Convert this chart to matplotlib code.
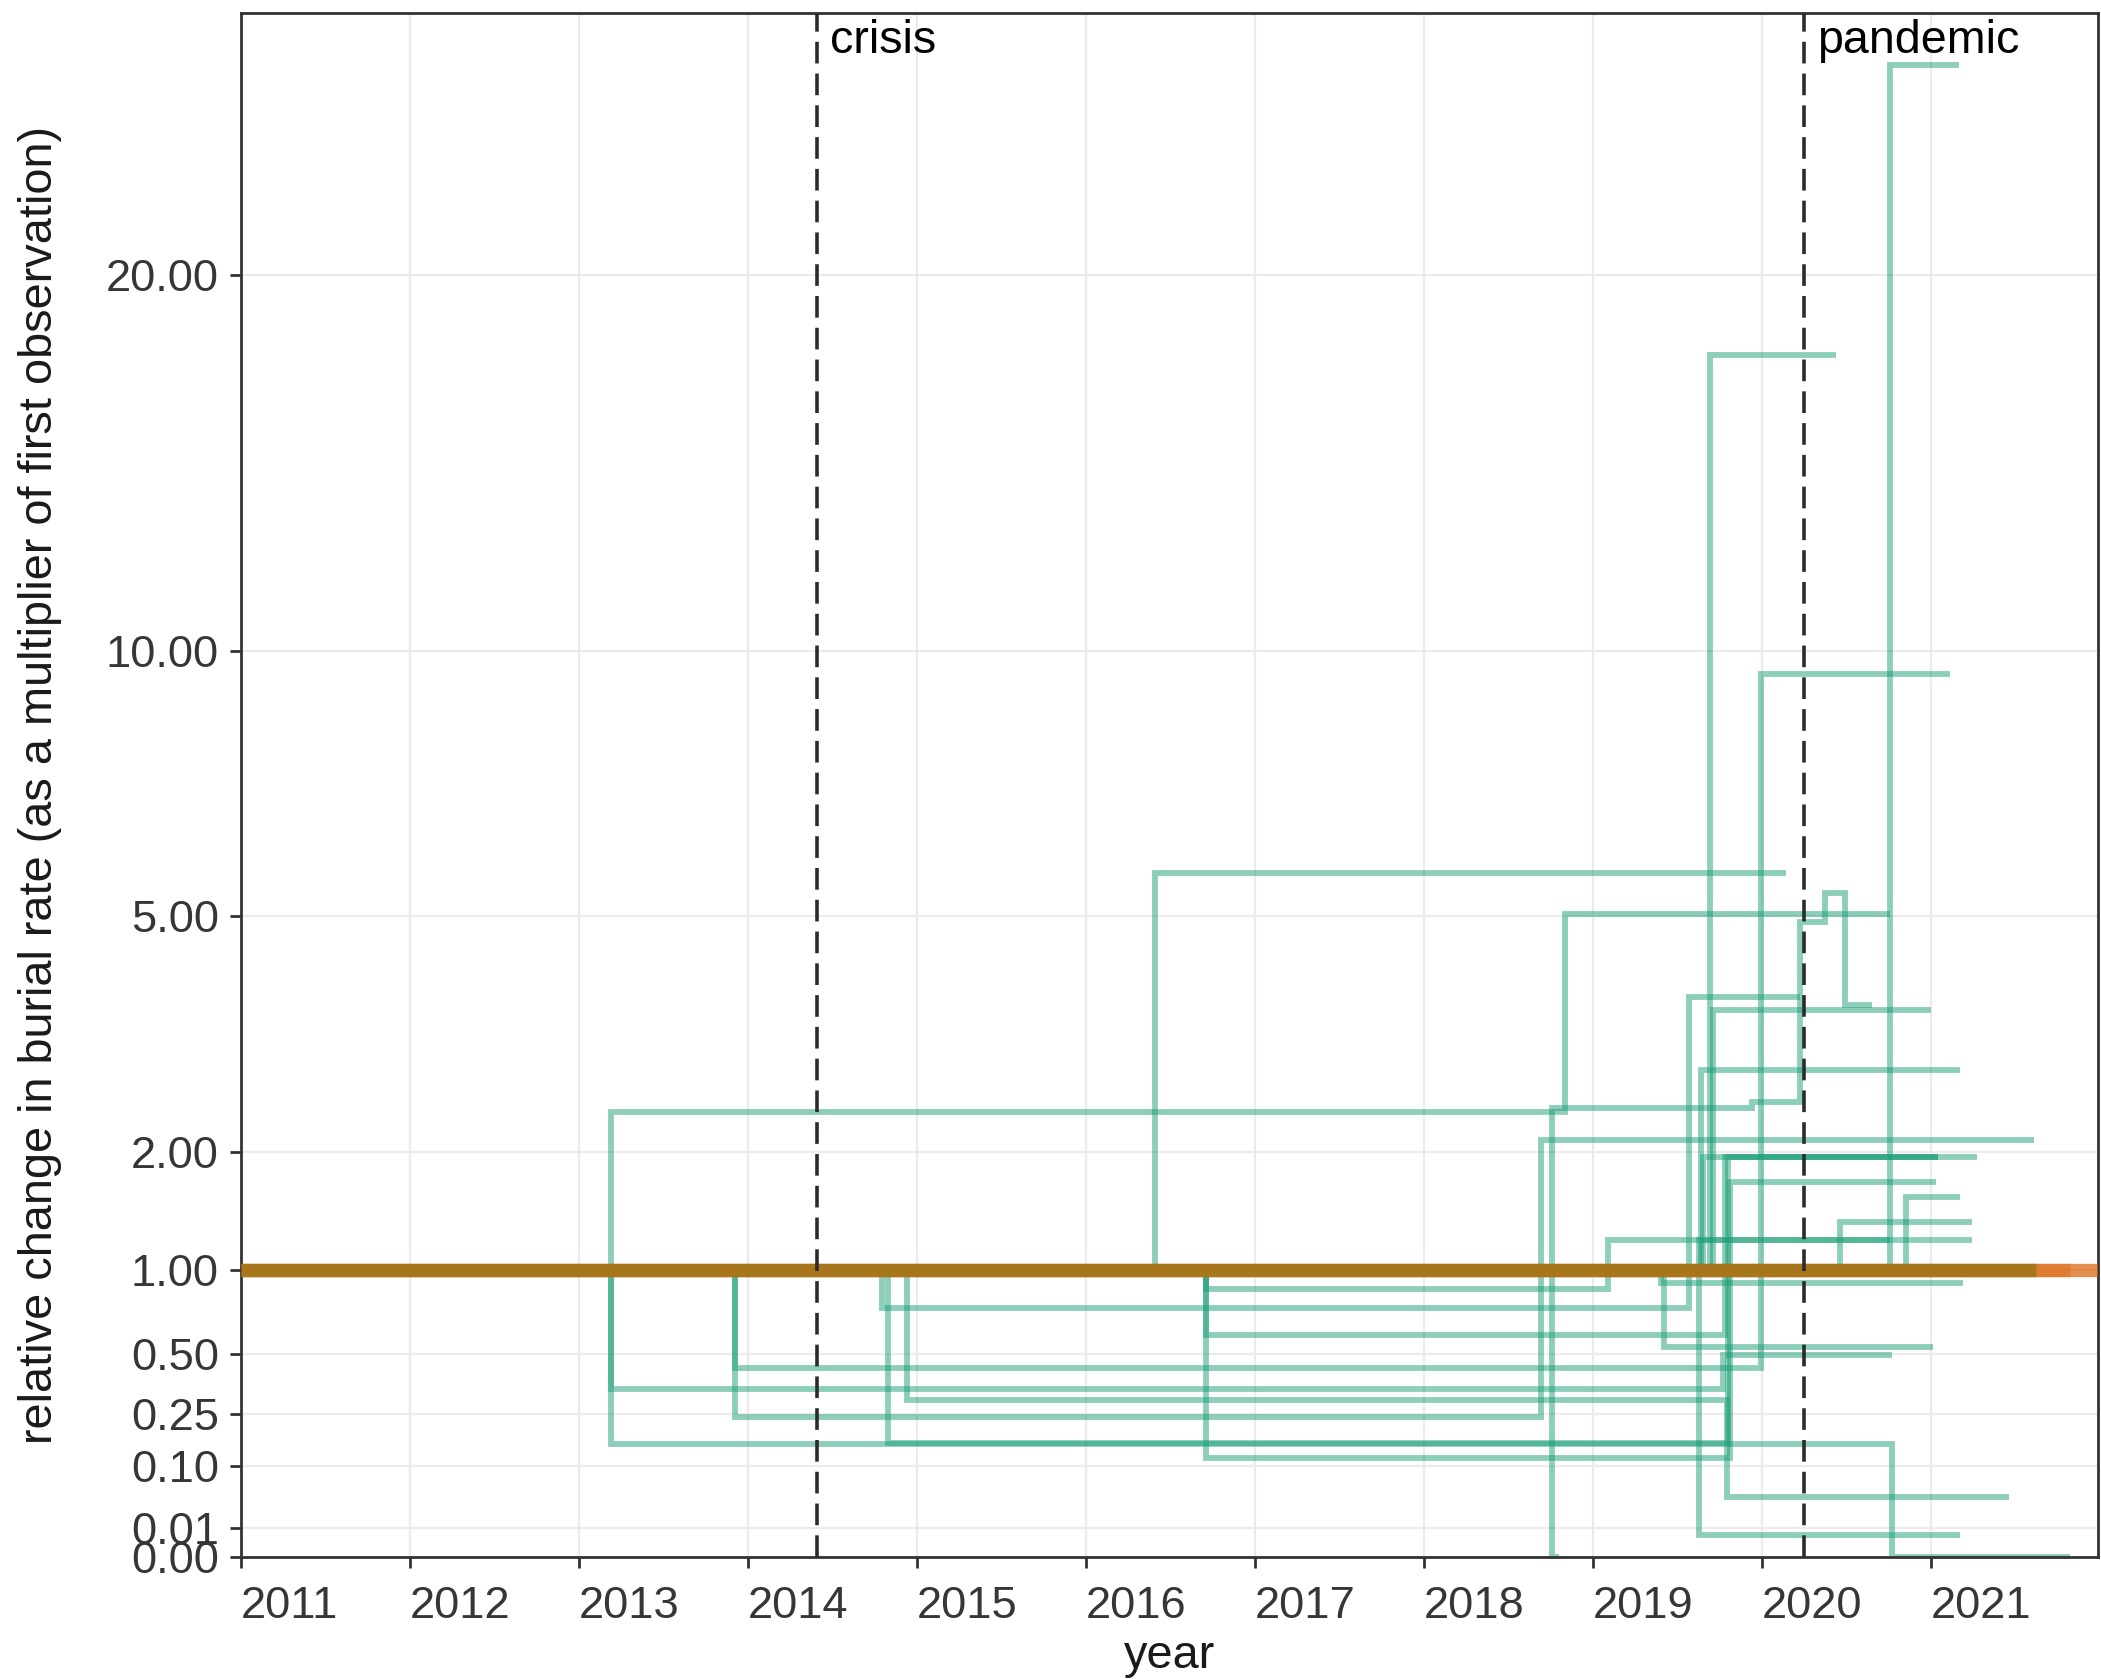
import numpy as np
import matplotlib
matplotlib.use('Agg')
import matplotlib.pyplot as plt

plt.rcParams['font.family'] = ['Liberation Sans', 'DejaVu Sans']

# events marked with dashed lines
events = ['crisis', 'pandemic']
event_years = [2014.41, 2020.25]

# axis breaks
x_years = list(range(2011, 2022))
y_breaks = [0.00, 0.01, 0.10, 0.25, 0.50, 1.00, 2.00, 5.00, 10.00, 20.00]

# green sites: dates where the rate changes (last date = last observation)
# and the relative value held from each date on
site_dates = [
    [2011.0, 2018.76, 2018.80],
    [2011.0, 2013.19, 2018.835, 2020.755],
    [2011.0, 2018.76, 2019.94, 2020.227, 2020.375, 2020.49, 2020.65],
    [2011.0, 2013.19, 2019.77, 2020.77],
    [2011.0, 2013.19, 2020.77, 2021.82],
    [2011.0, 2013.92, 2019.995, 2021.11],
    [2011.0, 2013.92, 2018.69, 2021.61],
    [2011.0, 2014.79, 2019.57, 2020.227],
    [2011.0, 2014.83, 2019.80, 2021.04],
    [2011.0, 2014.94, 2019.79, 2021.46],
    [2011.0, 2016.41, 2020.14],
    [2011.0, 2016.71, 2019.09, 2021.24],
    [2011.0, 2016.71, 2019.78, 2021.04],
    [2011.0, 2016.71, 2019.81, 2021.03],
    [2011.0, 2019.69, 2020.44],
    [2011.0, 2019.71, 2021.00],
    [2011.0, 2019.64, 2021.17],
    [2011.0, 2019.65, 2021.27],
    [2011.0, 2020.85, 2021.17],
    [2011.0, 2020.46, 2021.24],
    [2011.0, 2020.755, 2021.166],
    [2011.0, 2019.63, 2020.755],
    [2011.0, 2019.40, 2021.19],
    [2011.0, 2019.42, 2021.01],
    [2011.0, 2019.625, 2021.17],
    [2011.0, 2021.61],
]
site_values = [
    [1, 0.0],
    [1, 2.41, 5.04],
    [1, 2.45, 2.52, 4.91, 5.36, 3.71],
    [1, 0.345, 0.497],
    [1, 0.155, 0.0],
    [1, 0.435, 9.5],
    [1, 0.24, 2.12],
    [1, 0.755, 3.82],
    [1, 0.158, 1.95],
    [1, 0.30, 0.044],
    [1, 5.7],
    [1, 0.875, 1.22],
    [1, 0.60, 1.95],
    [1, 0.12, 1.71],
    [1, 17.6],
    [1, 3.64],
    [1, 2.89],
    [1, 1.95],
    [1, 1.58],
    [1, 1.37],
    [1, 27.1],
    [1, 1.22],
    [1, 0.917],
    [1, 0.538],
    [1, 0.006],
    [1],
]

# flat groups that never change (orange and brown)
ref_dates = [[2011.0, 2022.0], [2011.0, 2021.82], [2011.0, 2021.62]]
ref_values = [[1], [1], [1]]
ref_colors = ['#D95F02', '#D95F02', '#A6761D']
ref_alpha = [0.7, 0.35, 0.95]

fig, ax = plt.subplots(figsize=(10.505, 8.395), dpi=200)
fig.subplots_adjust(left=0.1148, right=0.9987, top=0.992, bottom=0.0726)

ax.set_yscale('function', functions=(lambda y: np.sqrt(np.clip(y, 0, None)),
                                     lambda y: np.square(y)))

for d, v in zip(site_dates, site_values):
    ax.step(d, list(v) + [v[-1]], where='post', color='#1B9E77', alpha=0.5,
            lw=2.1, solid_capstyle='butt', solid_joinstyle='miter', zorder=2)

for d, v, c, a in zip(ref_dates, ref_values, ref_colors, ref_alpha):
    ax.step(d, list(v) + [v[-1]], where='post', color=c, alpha=a,
            lw=4.8, solid_capstyle='butt', zorder=3)

for name, yr in zip(events, event_years):
    ax.axvline(yr, color='#2b2b2b', lw=1.3, ls=(0, (6, 2.8)), zorder=4)
    ax.annotate(name, xy=(yr, 1.0), xycoords=('data', 'axes fraction'),
                xytext=(4.7, -14.4), textcoords='offset points',
                ha='left', va='baseline', fontsize=16.8, color='black')

ax.set_xlim(2011.0, 2021.99)
ax.set_ylim(0, 29)

ax.set_xticks(x_years, labels=[str(y) for y in x_years], ha='left')
ax.set_yticks(y_breaks, labels=['%.2f' % b for b in y_breaks])
ax.minorticks_off()

ax.grid(True, color='#EBEBEB', lw=0.8, zorder=0)
ax.set_axisbelow(True)
for s in ax.spines.values():
    s.set_color('#333333')
    s.set_linewidth(1.0)

ax.tick_params(axis='both', length=4, width=1.0, color='#333333',
               labelsize=16.3, labelcolor='#363636')
ax.tick_params(axis='x', pad=6.5)
ax.tick_params(axis='y', pad=4)

ax.set_xlabel('year', fontsize=16.9, color='#1a1a1a')
ax.set_ylabel('relative change in burial rate (as a multiplier of first observation)',
              fontsize=16.9, color='#1a1a1a')
ax.xaxis.set_label_coords(0.5, -0.050)
ax.yaxis.set_label_coords(-0.0967, 0.5)

fig.savefig('out.png', dpi=200)
